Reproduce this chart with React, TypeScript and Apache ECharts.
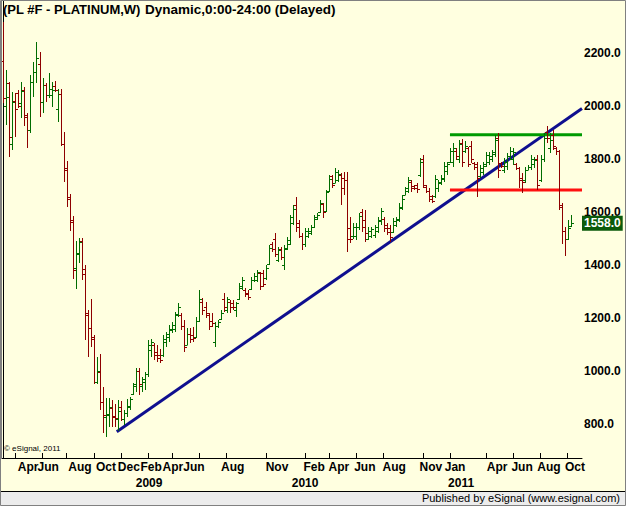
import React, { useEffect, useRef } from "react";
import * as echarts from "echarts";

// ---------- data ----------
const firstBarDate = "2008-03-07";

const opens = [
  2170, 2000, 2087, 1857, 2020, 2050, 2010, 2060, 1960, 1910, 2090, 2130, 2160, 2016, 2079, 2042, 2040, 2075, 1990, 2045,
  1855, 1766, 1650, 1570, 1390, 1440, 1490, 1365, 1220, 1163, 1129, 960, 997, 884, 825, 835, 859, 830, 820, 865,
  820, 840, 865, 915, 945, 1000, 945, 960, 990, 1080, 1100, 1070, 1060, 1060, 1110, 1130, 1155, 1160, 1215, 1210,
  1170, 1100, 1140, 1135, 1130, 1190, 1260, 1240, 1210, 1190, 1110, 1170, 1195, 1270, 1230, 1260, 1255, 1230, 1270, 1315,
  1305, 1295, 1310, 1345, 1345, 1370, 1370, 1350, 1405, 1480, 1500, 1420, 1460, 1400, 1465, 1480, 1560, 1625, 1560, 1510,
  1480, 1510, 1520, 1545, 1575, 1600, 1630, 1605, 1680, 1735, 1710, 1720, 1740, 1730, 1720, 1540, 1510, 1510, 1545, 1600,
  1570, 1500, 1510, 1515, 1530, 1565, 1575, 1550, 1540, 1525, 1550, 1570, 1615, 1665, 1680, 1715, 1698, 1700, 1740, 1800,
  1695, 1680, 1660, 1660, 1690, 1710, 1725, 1755, 1790, 1790, 1830, 1800, 1860, 1830, 1840, 1850, 1785, 1780, 1735, 1750,
  1775, 1790, 1800, 1820, 1880, 1785, 1760, 1775, 1810, 1800, 1780, 1765, 1730, 1720, 1760, 1770, 1780, 1800, 1720, 1800,
  1900, 1840, 1890, 1840, 1830, 1620, 1530, 1497, 1548,
];
const highs = [
  2318, 2136, 2092, 2054, 2048, 2060, 2092, 2073, 1973, 2117, 2167, 2243, 2205, 2105, 2086, 2126, 2092, 2094, 2063, 2063,
  1901, 1793, 1668, 1585, 1491, 1501, 1501, 1400, 1230, 1272, 1136, 1052, 1064, 941, 897, 897, 891, 875, 891, 888,
  853, 893, 903, 954, 1010, 1010, 979, 998, 1117, 1120, 1104, 1098, 1085, 1136, 1149, 1174, 1186, 1224, 1255, 1218,
  1193, 1161, 1161, 1167, 1205, 1306, 1274, 1262, 1218, 1218, 1186, 1193, 1230, 1293, 1281, 1268, 1268, 1262, 1331, 1356,
  1312, 1306, 1356, 1369, 1381, 1375, 1381, 1400, 1476, 1488, 1520, 1469, 1469, 1475, 1507, 1589, 1626, 1658, 1570, 1520,
  1538, 1538, 1551, 1589, 1595, 1645, 1633, 1683, 1740, 1740, 1765, 1760, 1746, 1752, 1750, 1582, 1560, 1557, 1595, 1610,
  1608, 1545, 1545, 1551, 1582, 1614, 1582, 1557, 1551, 1576, 1582, 1633, 1664, 1696, 1733, 1721, 1702, 1708, 1803, 1815,
  1702, 1689, 1664, 1740, 1721, 1740, 1790, 1790, 1840, 1859, 1840, 1872, 1876, 1866, 1847, 1866, 1790, 1790, 1778, 1790,
  1828, 1828, 1834, 1891, 1897, 1790, 1803, 1822, 1847, 1840, 1784, 1771, 1746, 1771, 1778, 1815, 1809, 1815, 1815, 1897,
  1925, 1897, 1910, 1847, 1834, 1633, 1544, 1570, 1589,
];
const lows = [
  2010, 1928, 1806, 1834, 1884, 1991, 1954, 1925, 1840, 1897, 2035, 2086, 1960, 1973, 2016, 2029, 1997, 2054, 1941, 1849,
  1714, 1620, 1529, 1346, 1308, 1406, 1343, 1117, 1054, 1092, 951, 951, 853, 765, 750, 790, 790, 790, 775, 812,
  796, 828, 853, 910, 922, 910, 922, 928, 979, 1054, 1042, 1035, 1029, 1054, 1092, 1111, 1142, 1149, 1205, 1155,
  1073, 1098, 1104, 1111, 1123, 1186, 1211, 1199, 1155, 1167, 1092, 1161, 1193, 1224, 1218, 1218, 1230, 1205, 1268, 1306,
  1280, 1268, 1306, 1337, 1337, 1306, 1318, 1343, 1400, 1450, 1431, 1413, 1418, 1381, 1457, 1475, 1551, 1526, 1501, 1457,
  1469, 1501, 1513, 1538, 1570, 1595, 1576, 1600, 1677, 1689, 1708, 1715, 1626, 1664, 1450, 1482, 1500, 1494, 1532, 1526,
  1488, 1494, 1501, 1501, 1520, 1551, 1526, 1513, 1488, 1520, 1545, 1564, 1608, 1664, 1670, 1677, 1683, 1670, 1733, 1689,
  1670, 1639, 1633, 1652, 1677, 1702, 1715, 1740, 1784, 1771, 1797, 1784, 1771, 1822, 1771, 1784, 1759, 1658, 1727, 1740,
  1771, 1778, 1790, 1809, 1727, 1765, 1746, 1759, 1797, 1778, 1759, 1690, 1671, 1708, 1759, 1759, 1765, 1683, 1715, 1790,
  1860, 1822, 1834, 1815, 1608, 1481, 1434, 1494, 1545,
];
const closes = [
  2029, 2035, 1884, 2014, 1990, 2000, 2055, 1966, 1910, 2092, 2130, 2180, 2016, 2079, 2042, 2065, 2060, 2060, 2045, 1857,
  1760, 1658, 1563, 1381, 1444, 1488, 1385, 1211, 1163, 1121, 960, 1000, 884, 834, 838, 865, 825, 822, 850, 820,
  840, 870, 895, 950, 1000, 950, 970, 990, 1100, 1110, 1060, 1050, 1040, 1120, 1140, 1160, 1175, 1210, 1240, 1170,
  1090, 1140, 1120, 1125, 1190, 1270, 1230, 1220, 1170, 1180, 1170, 1185, 1220, 1240, 1270, 1240, 1240, 1255, 1320, 1345,
  1290, 1280, 1345, 1360, 1375, 1320, 1330, 1390, 1465, 1460, 1440, 1455, 1430, 1460, 1495, 1580, 1610, 1545, 1510, 1480,
  1530, 1530, 1545, 1580, 1590, 1635, 1600, 1675, 1725, 1700, 1750, 1745, 1690, 1720, 1500, 1500, 1545, 1545, 1585, 1545,
  1520, 1530, 1535, 1545, 1570, 1605, 1540, 1525, 1505, 1565, 1575, 1620, 1650, 1690, 1720, 1690, 1690, 1685, 1790, 1700,
  1680, 1650, 1640, 1725, 1715, 1730, 1775, 1780, 1830, 1840, 1810, 1855, 1790, 1850, 1780, 1800, 1770, 1730, 1765, 1780,
  1815, 1810, 1825, 1870, 1760, 1775, 1790, 1810, 1830, 1825, 1765, 1720, 1715, 1760, 1770, 1800, 1795, 1700, 1800, 1880,
  1880, 1870, 1850, 1830, 1625, 1529, 1497, 1540, 1558,
];

// x-axis: month ticks (first bar of month), month labels (bar index under which each is centred) and years
const monthLabels = ["Apr", "Jun", "Aug", "Oct", "Dec", "Feb", "Apr", "Jun", "Aug", "Nov", "Feb", "Apr", "Jun", "Aug", "Nov", "Jan", "Apr", "Jun", "Aug", "Oct"];
const monthStarts = [
  "2008-04-01", "2008-06-01", "2008-08-01", "2008-10-01", "2008-12-01", "2009-02-01", "2009-04-01", "2009-06-01", "2009-08-01", "2009-11-01",
  "2010-02-01", "2010-04-01", "2010-06-01", "2010-08-01", "2010-11-01", "2011-01-01", "2011-04-01", "2011-06-01", "2011-08-01", "2011-10-01",
];
const monthLabelBars = [8.2, 14.9, 25.4, 34.0, 41.6, 49.0, 56.2, 63.2, 76.0, 90.7, 103.0, 111.2, 119.8, 129.5, 141.7, 149.7, 163.6, 171.9, 180.8, 189.4];
const yearLabels = ["2009", "2010", "2011"];
const yearLabelBars = [48.3, 100, 151.7];

// y-axis
const yTickValues = [800, 1000, 1200, 1400, 1600, 1800, 2000, 2200];
const lastPrice = 1558.0;

// drawn studies
const trendLine = [
  { bar: 37.6, value: 771 },
  { bar: 144.7, value: 1618 },
];
const resistanceLevel = 1891;
const supportLevel = 1683;
const levelsFromBar = 148;

// ---------- helpers ----------
const WEEK = 7 * 86400000;
const weekIndex = (d: string) =>
  (Date.parse(d + "T00:00:00Z") - Date.parse(firstBarDate + "T00:00:00Z")) / WEEK;

const FONT = "'Liberation Sans', Arial, sans-serif";
const GREEN_BAR = "#006c00";
const RED_BAR = "#8e0000";
const BG = "#FFFFE0";

export default function App() {
  const ref = useRef<HTMLDivElement>(null);

  useEffect(() => {
    if (!ref.current) return;
    const chart = echarts.init(ref.current, undefined, { renderer: "svg" });

    const bars = opens.map((o, i) => [i, o, highs[i], lows[i], closes[i]]);
    const xMin = -0.43;
    const xMax = 191.75;

    const tickPos = monthStarts.map((d) => Math.ceil(weekIndex(d) - 1e-9));
    // empty guard labels at both ends so no real label is treated as the axis min/max label
    const monthPos = [xMin, ...monthLabelBars, xMax];
    const yearPos = [xMin, ...yearLabelBars, xMax];
    const labelAt = (v: number, pos: number[], labels: string[]) => {
      for (let i = 0; i < pos.length; i++) if (Math.abs(pos[i] - v) < 1e-6) return labels[i];
      return "";
    };

    const t0 = [trendLine[0].bar, trendLine[0].value];
    const t1 = [trendLine[1].bar, trendLine[1].value];
    const slope = (t1[1] - t0[1]) / (t1[0] - t0[0]);
    const trendSeries = [t0, [xMax, t0[1] + slope * (xMax - t0[0])]];

    const labelStyle = {
      fontSize: 12,
      fontWeight: "bold",
      fontFamily: FONT,
      color: "#000",
    };

    chart.setOption({
      animation: false,
      backgroundColor: BG,
      grid: { left: 2, right: 44, top: 1, bottom: 48, containLabel: false, outerBoundsMode: "none" },
      xAxis: [
        {
          type: "value",
          min: xMin,
          max: xMax,
          position: "bottom",
          axisLine: { show: true, onZero: false, lineStyle: { color: "#000", width: 1 } },
          axisTick: { show: true, inside: true, length: 5, customValues: tickPos, lineStyle: { color: "#000" } },
          axisLabel: {
            show: true,
            customValues: monthPos,
            formatter: (v: number) => labelAt(v, monthLabelBars, monthLabels),
            margin: 3,
            hideOverlap: false,
            ...labelStyle,
          },
          splitLine: { show: false },
        },
        {
          type: "value",
          min: xMin,
          max: xMax,
          position: "bottom",
          offset: 16,
          axisLine: { show: false },
          axisTick: { show: false },
          axisLabel: {
            show: true,
            customValues: yearPos,
            formatter: (v: number) => labelAt(v, yearLabelBars, yearLabels),
            margin: 3,
            hideOverlap: false,
            ...labelStyle,
          },
          splitLine: { show: false },
        },
      ],
      yAxis: {
        type: "value",
        position: "right",
        min: 672,
        max: 2396,
        axisLine: { show: true, lineStyle: { color: "#000", width: 1 } },
        axisTick: { show: false, customValues: yTickValues },
        axisLabel: {
          show: true,
          customValues: yTickValues,
          formatter: (v: number) => v.toFixed(1),
          margin: 2,
          ...labelStyle,
        },
        splitLine: { show: false },
      },
      series: [
        {
          type: "line",
          data: trendSeries,
          symbol: "none",
          lineStyle: { color: "#0f0f8f", width: 3 },
          silent: true,
          z: 3,
        },
        {
          type: "line",
          data: [[levelsFromBar, resistanceLevel], [xMax, resistanceLevel]],
          symbol: "none",
          lineStyle: { color: "#009a00", width: 3 },
          silent: true,
          z: 3,
        },
        {
          type: "line",
          data: [[levelsFromBar, supportLevel], [xMax, supportLevel]],
          symbol: "none",
          lineStyle: { color: "#ff1010", width: 3 },
          silent: true,
          z: 3,
        },
        {
          type: "custom",
          data: bars,
          encode: { x: 0, y: [1, 2, 3, 4] },
          z: 4,
          clip: false,
          renderItem: (params: any, api: any) => {
            const i = api.value(0);
            const o = api.value(1);
            const h = api.value(2);
            const l = api.value(3);
            const c = api.value(4);
            const pH = api.coord([i, h]);
            const pL = api.coord([i, l]);
            const pO = api.coord([i, o]);
            const pC = api.coord([i, c]);
            const x = Math.round(pH[0]) + 0.5;
            const color = c >= o ? GREEN_BAR : RED_BAR;
            const yo = Math.round(pO[1]) + 0.5;
            const yc = Math.round(pC[1]) + 0.5;
            const st = { stroke: color, lineWidth: 1 };
            return {
              type: "group",
              children: [
                { type: "line", shape: { x1: x, y1: Math.round(pH[1]), x2: x, y2: Math.round(pL[1]) }, style: st },
                { type: "line", shape: { x1: x - 2.5, y1: yo, x2: x, y2: yo }, style: st },
                { type: "line", shape: { x1: x, y1: yc, x2: x + 2.5, y2: yc }, style: st },
              ],
            };
          },
          markLine: {
            silent: true,
            symbol: ["none", "none"],
            lineStyle: { color: "rgba(0,0,0,0)", width: 0, type: "solid" },
            data: [{ yAxis: lastPrice }],
            label: {
              show: true,
              position: "end",
              distance: 0,
              formatter: () => lastPrice.toFixed(1),
              backgroundColor: "#0b5a0b",
              color: "#ffffff",
              fontSize: 12,
              fontWeight: "bold",
              fontFamily: FONT,
              padding: [2, 2, 1, 2],
            },
            z: 20,
          },
        },
      ],
      graphic: [
        {
          type: "text",
          x: 3,
          y: 3,
          z: 10,
          style: {
            text: "(PL #F - PLATINUM,W)",
            font: `bold 13px ${FONT}`,
            fill: "#000",
          },
        },
        {
          type: "text",
          x: 145,
          y: 2,
          z: 10,
          style: {
            text: "Dynamic,0:00-24:00 (Delayed)",
            font: `bold 13.5px ${FONT}`,
            fill: "#000",
          },
        },
        {
          type: "text",
          x: 4,
          y: 444,
          z: 10,
          style: { text: "© eSignal, 2011", font: `8px ${FONT}`, fill: "#000" },
        },
        {
          type: "rect",
          shape: { x: 0, y: 491, width: 626, height: 15 },
          style: { fill: "#ECECEC" },
          z: 9,
        },
        {
          type: "line",
          shape: { x1: 0, y1: 491.5, x2: 626, y2: 491.5 },
          style: { stroke: "#000", lineWidth: 1 },
          z: 10,
        },
        {
          type: "text",
          right: 6,
          top: 492,
          z: 11,
          style: { text: "Published by eSignal (www.esignal.com)", font: `11px ${FONT}`, fill: "#000" },
        },
        {
          type: "rect",
          shape: { x: 0.5, y: 0.5, width: 625, height: 505 },
          style: { fill: "none", stroke: "#808080", lineWidth: 1 },
          z: 12,
        },
        {
          type: "line",
          shape: { x1: 1.5, y1: 0, x2: 1.5, y2: 459 },
          style: { stroke: "#808080", lineWidth: 1 },
          z: 12,
        },
      ],
    });

    return () => chart.dispose();
  }, []);

  return (
    <div
      ref={ref}
      style={{ position: "fixed", left: 0, top: 0, width: 626, height: 506 }}
    />
  );
}
